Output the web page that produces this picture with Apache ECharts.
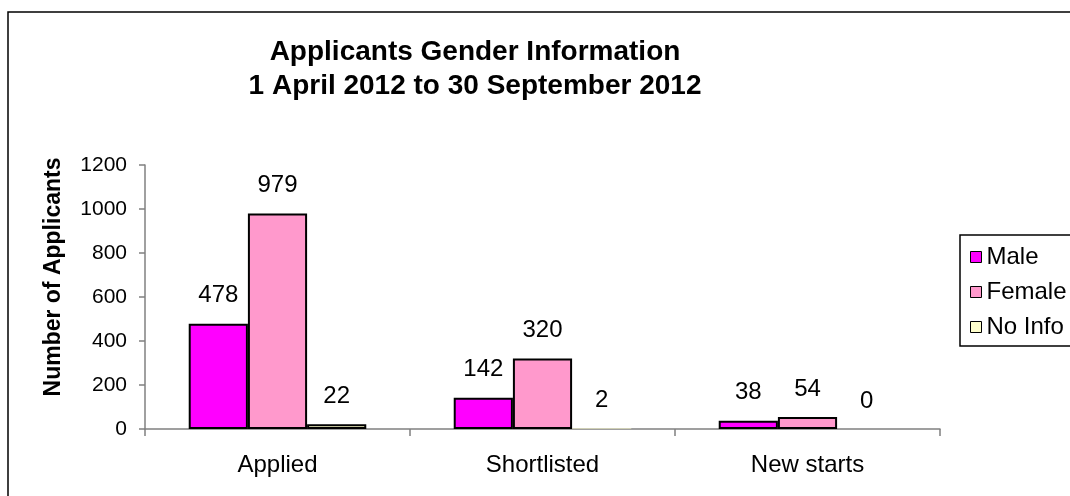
<!DOCTYPE html>
<html>
<head>
<meta charset="utf-8">
<script src="https://cdn.jsdelivr.net/npm/echarts@6/dist/echarts.min.js"></script>
<style>
  html, body { margin: 0; padding: 0; background: #fff; }
  #chart { width: 1070px; height: 496px; }
</style>
</head>
<body>
<div id="chart"></div>
<script>
// Applicant counts by stage and gender
const categories = ['Applied', 'Shortlisted', 'New starts'];
const maleValues = [478, 142, 38];
const femaleValues = [979, 320, 54];
const noInfoValues = [22, 2, 0];
const yTicks = { min: 0, max: 1200, interval: 200 };

const FONT = 'Liberation Sans, Arial, sans-serif';
const GRID = { left: 145, right: 130, top: 165, bottom: 67 };
const PLOT_H = 496 - GRID.top - GRID.bottom;

const chart = echarts.init(document.getElementById('chart'), null, { renderer: 'canvas' });

// Bars shorter than a pixel are drawn without an outline
function barData(values) {
  return values.map(function (v) {
    const px = v / (yTicks.max - yTicks.min) * PLOT_H;
    return px < 1 ? { value: v, itemStyle: { borderWidth: 0 } } : v;
  });
}

function barSeries(name, values, color) {
  return {
    name: name,
    type: 'bar',
    data: barData(values),
    barGap: '0%',
    barCategoryGap: '33%',
    itemStyle: { color: color, borderColor: '#000', borderWidth: 2 },
    label: {
      show: true,
      position: 'top',
      distance: 16,
      color: '#000',
      fontFamily: FONT,
      fontSize: 24
    }
  };
}

chart.setOption({
  animation: false,
  backgroundColor: '#fff',
  graphic: [{
    type: 'rect',
    shape: { x: 8, y: 12, width: 1100, height: 520 },
    style: { fill: 'none', stroke: '#000', lineWidth: 1.5 },
    silent: true,
    z: -1
  }],
  title: {
    text: 'Applicants Gender Information\n1 April 2012 to 30 September 2012',
    left: 470,
    top: 30,
    textAlign: 'center',
    textStyle: {
      fontFamily: FONT,
      fontWeight: 'bold',
      fontSize: 28,
      lineHeight: 34,
      color: '#000'
    }
  },
  legend: {
    orient: 'vertical',
    left: 960,
    top: 235,
    padding: [10, 40, 7, 10],
    itemGap: 11,
    itemWidth: 11,
    itemHeight: 11,
    icon: 'rect',
    borderColor: '#000',
    borderWidth: 1.5,
    itemStyle: { borderColor: '#000', borderWidth: 1 },
    textStyle: { fontFamily: FONT, fontSize: 24, color: '#000' },
    data: ['Male', 'Female', 'No Info']
  },
  grid: { left: GRID.left, right: GRID.right, top: GRID.top, bottom: GRID.bottom, containLabel: false },
  xAxis: {
    type: 'category',
    data: categories,
    boundaryGap: true,
    axisLine: { lineStyle: { color: '#808080', width: 1.5 } },
    axisTick: { show: true, length: 7, alignWithLabel: false, lineStyle: { color: '#808080', width: 1.5 } },
    axisLabel: { color: '#000', fontFamily: FONT, fontSize: 24, margin: 24 }
  },
  yAxis: {
    type: 'value',
    min: yTicks.min,
    max: yTicks.max,
    interval: yTicks.interval,
    name: 'Number of Applicants',
    nameLocation: 'middle',
    nameGap: 80,
    nameRotate: 90,
    nameTextStyle: {
      fontFamily: FONT, fontWeight: 'bold', fontSize: 23, color: '#000',
      padding: [0, 0, 0, 40]
    },
    splitLine: { show: false },
    axisLine: { show: true, lineStyle: { color: '#808080', width: 1.5 } },
    axisTick: { show: true, length: 6, lineStyle: { color: '#808080', width: 1.5 } },
    axisLabel: {
      color: '#000', fontFamily: FONT, fontSize: 21, margin: 18,
      formatter: function (v) { return String(v); }
    }
  },
  series: [
    barSeries('Male', maleValues, '#FF00FF'),
    barSeries('Female', femaleValues, '#FF99CC'),
    barSeries('No Info', noInfoValues, '#FFFFCC')
  ]
});
</script>
</body>
</html>
